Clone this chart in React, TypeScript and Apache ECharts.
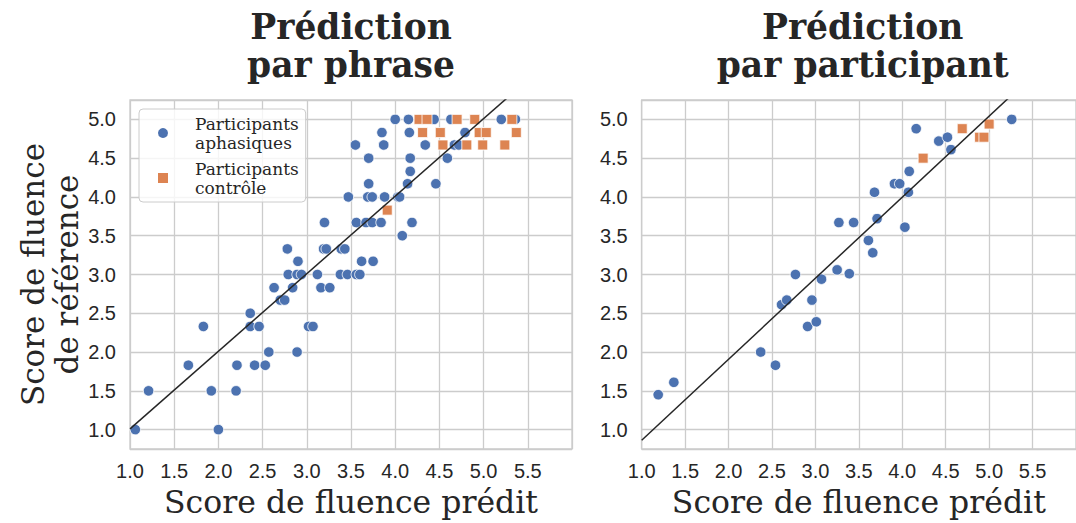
import { useEffect, useRef } from "react";
import * as echarts from "echarts";

// ---------- data ----------
const xTicks = [1.0, 1.5, 2.0, 2.5, 3.0, 3.5, 4.0, 4.5, 5.0, 5.5];
const yTicks = [1.0, 1.5, 2.0, 2.5, 3.0, 3.5, 4.0, 4.5, 5.0];

const titles = ["Prédiction\npar phrase", "Prédiction\npar participant"];
const xName = "Score de fluence prédit";
const yName = "Score de fluence\nde référence";
const seriesNames = ["Participants\naphasiques", "Participants\ncontrôle"];

// Left panel: prediction per sentence
const phraseAphasic: [number, number][] = [
  [1.06, 1.0], [2.0, 1.0],
  [1.21, 1.5], [1.92, 1.5], [2.2, 1.5],
  [1.66, 1.83], [2.21, 1.83], [2.41, 1.83], [2.53, 1.83],
  [2.57, 2.0], [2.89, 2.0],
  [1.83, 2.33], [2.36, 2.33], [2.46, 2.33], [3.02, 2.33], [3.07, 2.33],
  [2.36, 2.5],
  [2.7, 2.67], [2.75, 2.67],
  [2.63, 2.83], [2.84, 2.83], [3.16, 2.83], [3.26, 2.83],
  [2.79, 3.0], [2.89, 3.0], [2.94, 3.0], [3.12, 3.0], [3.38, 3.0], [3.46, 3.0], [3.56, 3.0], [3.6, 3.0],
  [2.9, 3.17], [3.62, 3.17], [3.75, 3.17],
  [2.78, 3.33], [3.19, 3.33], [3.22, 3.33], [3.39, 3.33], [3.43, 3.33],
  [4.08, 3.5],
  [3.2, 3.67], [3.56, 3.67], [3.67, 3.67], [3.74, 3.67], [3.84, 3.67], [4.19, 3.67],
  [3.47, 4.0], [3.69, 4.0], [3.74, 4.0], [3.88, 4.0], [4.03, 4.0], [4.05, 4.0],
  [3.7, 4.17], [4.14, 4.17], [4.46, 4.17],
  [4.17, 4.33],
  [3.7, 4.5], [4.17, 4.5], [4.59, 4.5],
  [3.55, 4.67], [3.87, 4.67], [4.34, 4.67], [4.67, 4.67], [4.72, 4.67],
  [3.85, 4.83], [4.16, 4.83], [4.79, 4.83],
  [4.0, 5.0], [4.15, 5.0], [4.44, 5.0], [4.63, 5.0], [5.2, 5.0], [5.36, 5.0],
];
const phraseControl: [number, number][] = [
  [3.91, 3.83],
  [4.54, 4.67], [4.81, 4.67], [4.99, 4.67], [5.24, 4.67],
  [4.31, 4.83], [4.51, 4.83], [4.95, 4.83], [5.03, 4.83], [5.37, 4.83],
  [4.27, 5.0], [4.36, 5.0], [4.7, 5.0], [4.9, 5.0], [5.32, 5.0],
];

// Right panel: prediction per participant
const participantAphasic: [number, number][] = [
  [1.19, 1.45], [1.37, 1.61], [2.37, 2.0], [2.54, 1.83], [2.61, 2.61], [2.67, 2.67],
  [2.77, 3.0], [2.91, 2.33], [2.96, 2.67], [3.01, 2.39], [3.07, 2.94], [3.25, 3.06],
  [3.39, 3.01], [3.27, 3.67], [3.44, 3.67], [3.61, 3.44], [3.66, 3.28], [3.68, 4.06],
  [3.71, 3.72], [3.91, 4.17], [3.97, 4.17], [4.03, 3.61], [4.07, 4.06], [4.08, 4.33],
  [4.16, 4.88], [4.42, 4.72], [4.52, 4.77], [4.56, 4.61], [5.26, 5.0],
];
const participantControl: [number, number][] = [
  [4.24, 4.5], [4.69, 4.88], [4.89, 4.77], [4.94, 4.77], [5.0, 4.94],
];

// fitted lines: [slope, intercept]
const fitPhrase = [1.0, 0.01];
const fitParticipant = [1.045, -0.183];

const X_MIN = 1.0;
const X_MAX = 6.0;
const Y_MIN = 0.75;
const Y_MAX = 5.25;

// ---------- style ----------
const BLUE = "#4C72B0";
const ORANGE = "#DD8452";
const TEXT = "#262626";
const GRIDC = "#cccccc";
const SANS = "Liberation Sans";
const SERIF = "DejaVu Serif";

const fitLine = (f: number[]) => [
  [X_MIN, f[0] * X_MIN + f[1]],
  [X_MAX, f[0] * X_MAX + f[1]],
];

export default function App() {
  const ref = useRef<HTMLDivElement>(null);

  useEffect(() => {
    document.body.style.margin = "0";
    const chart = echarts.init(ref.current!, undefined, { renderer: "svg" });

    const grids = [
      { left: 130, top: 100, width: 442, height: 350, show: true, borderColor: GRIDC, borderWidth: 1.3, backgroundColor: "#ffffff" },
      { left: 641.7, top: 100, width: 442, height: 350, show: true, borderColor: GRIDC, borderWidth: 1.3, backgroundColor: "#ffffff" },
    ];

    const mkX = (i: number) => ({
      type: "value",
      gridIndex: i,
      min: X_MIN,
      max: X_MAX,
      interval: 0.5,
      axisLine: { show: false },
      axisTick: { show: false },
      splitLine: { show: true, lineStyle: { color: GRIDC, width: 1.3 } },
      axisLabel: {
        color: TEXT,
        fontFamily: SANS,
        fontSize: 20,
        margin: 12,
        showMaxLabel: false,
        formatter: (v: number) =>
          xTicks.some((t) => Math.abs(t - v) < 1e-6) ? v.toFixed(1) : "",
      },
      name: xName,
      nameLocation: "middle",
      nameGap: 37,
      nameTextStyle: { fontFamily: SERIF, fontSize: 31.5, color: TEXT },
    });

    const mkY = (i: number, withName: boolean) => ({
      type: "value",
      gridIndex: i,
      min: Y_MIN,
      max: Y_MAX,
      splitNumber: 9,
      axisLine: { show: false },
      axisTick: { show: false },
      splitLine: { show: true, lineStyle: { color: GRIDC, width: 1.3 } },
      axisLabel: {
        color: TEXT,
        fontFamily: SANS,
        fontSize: 20,
        margin: 14,
        showMinLabel: false,
        showMaxLabel: false,
        formatter: (v: number) =>
          yTicks.some((t) => Math.abs(t - v) < 1e-6) ? v.toFixed(1) : "",
      },
      name: withName ? yName : "",
      nameLocation: "middle",
      nameGap: 44,
      nameRotate: 90,
      nameTextStyle: { fontFamily: SERIF, fontSize: 31, color: TEXT, lineHeight: 34 },
    });

    const scatter = (name: string, data: [number, number][], i: number, blue: boolean) => ({
      type: "scatter",
      name,
      xAxisIndex: i,
      yAxisIndex: i,
      data,
      symbol: blue ? "circle" : "rect",
      symbolSize: blue ? 10.5 : 10,
      itemStyle: { color: blue ? BLUE : ORANGE, borderColor: "#ffffff", borderWidth: 0.8, opacity: 1 },
      z: 3,
      silent: true,
    });

    const line = (f: number[], i: number) => ({
      type: "line",
      name: "fit" + i,
      xAxisIndex: i,
      yAxisIndex: i,
      data: fitLine(f),
      showSymbol: false,
      symbol: "none",
      clip: true,
      lineStyle: { color: TEXT, width: 1.5 },
      z: 4,
      silent: true,
    });

    chart.setOption({
      animation: false,
      backgroundColor: "#ffffff",
      grid: grids,
      xAxis: [mkX(0), mkX(1)],
      yAxis: [mkY(0, true), mkY(1, false)],
      legend: {
        orient: "vertical",
        left: 139,
        top: 109,
        data: [
          { name: seriesNames[0], icon: "circle" },
          { name: seriesNames[1], icon: "rect" },
        ],
        itemWidth: 12,
        itemHeight: 12,
        itemGap: 7,
        padding: [5, 7, 5, 17],
        borderColor: GRIDC,
        borderWidth: 1,
        borderRadius: 4,
        backgroundColor: "rgba(255,255,255,0.8)",
        selectedMode: false,
        textStyle: { fontFamily: SERIF, fontSize: 17, lineHeight: 19, color: TEXT, padding: [0, 0, 0, 21] },
        z: 10,
      },
      graphic: [
        {
          type: "text",
          x: 351,
          y: 8,
          style: {
            text: titles[0],
            textAlign: "center",
            textVerticalAlign: "top",
            font: `bold 34.5px "${SERIF}"`,
            lineHeight: 38,
            fill: TEXT,
          },
        },
        {
          type: "text",
          x: 862.7,
          y: 8,
          style: {
            text: titles[1],
            textAlign: "center",
            textVerticalAlign: "top",
            font: `bold 34.5px "${SERIF}"`,
            lineHeight: 38,
            fill: TEXT,
          },
        },
      ],
      series: [
        line(fitPhrase, 0),
        scatter(seriesNames[0], phraseAphasic, 0, true),
        scatter(seriesNames[1], phraseControl, 0, false),
        line(fitParticipant, 1),
        scatter(seriesNames[0], participantAphasic, 1, true),
        scatter(seriesNames[1], participantControl, 1, false),
      ],
    });

    return () => chart.dispose();
  }, []);

  return (
    <div
      ref={ref}
      style={{ position: "fixed", left: 0, top: 0, width: 1076, height: 523 }}
    />
  );
}
